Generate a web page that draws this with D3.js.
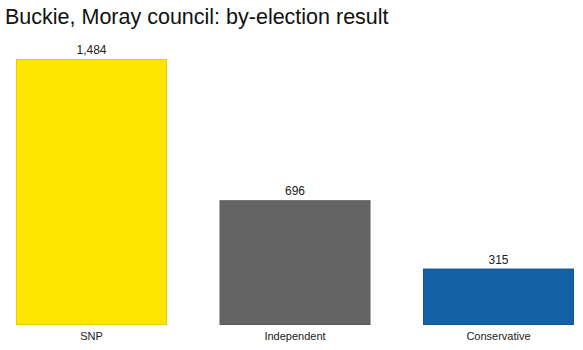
<!DOCTYPE html>
<html>
<head>
<meta charset="utf-8">
<script src="https://cdn.jsdelivr.net/npm/d3@7"></script>
<style>
  body { margin: 0; background: #fff; font-family: "Liberation Sans", Arial, sans-serif; }
</style>
</head>
<body>
<script>
// data
var parties = ["SNP", "Independent", "Conservative"];
var votes = [1484, 696, 315];
var colours = ["#ffe600", "#646464", "#1461a6"];
var strokes = ["#e8d000", "#5a5a5a", "#10579a"];

var width = 583, height = 350;

var svg = d3.select("body").append("svg")
    .attr("width", width)
    .attr("height", height);

svg.append("text")
    .attr("x", 5)
    .attr("y", 24)
    .style("font-size", "21.5px")
    .style("fill", "#111")
    .text("Buckie, Moray council: by-election result");

var x = d3.scaleBand()
    .domain(parties)
    .range([16, 574])
    .paddingInner(0.258)
    .paddingOuter(0);

var y = d3.scaleLinear()
    .domain([0, 1484])
    .range([325, 59]);

var data = parties.map(function(p, i) { return {party: p, votes: votes[i], i: i}; });

svg.selectAll("rect.bar")
    .data(data)
    .enter().append("rect")
        .attr("class", "bar")
        .attr("x", function(d) { return x(d.party) + 0.5; })
        .attr("y", function(d) { return y(d.votes) + 0.5; })
        .attr("width", x.bandwidth() - 1)
        .attr("height", function(d) { return y(0) - y(d.votes) - 1; })
        .attr("fill", function(d) { return colours[d.i]; })
        .attr("stroke", function(d) { return strokes[d.i]; })
        .attr("stroke-width", 1);

// value labels
svg.selectAll("text.val")
    .data(data)
    .enter().append("text")
        .attr("class", "val")
        .attr("x", function(d) { return x(d.party) + x.bandwidth() / 2; })
        .attr("y", function(d) { return y(d.votes) - 5; })
        .attr("text-anchor", "middle")
        .style("font-size", "12px")
        .style("fill", "#222")
        .text(function(d) { return d3.format(",")(d.votes); });

// x axis labels
var xAxis = svg.append("g")
    .attr("transform", "translate(0,325)")
    .call(d3.axisBottom(x).tickSize(0).tickPadding(7));
xAxis.select(".domain").remove();
xAxis.selectAll("text")
    .style("font-size", "11px")
    .style("font-family", "Liberation Sans, Arial, sans-serif")
    .style("fill", "#222");
</script>
</body>
</html>
